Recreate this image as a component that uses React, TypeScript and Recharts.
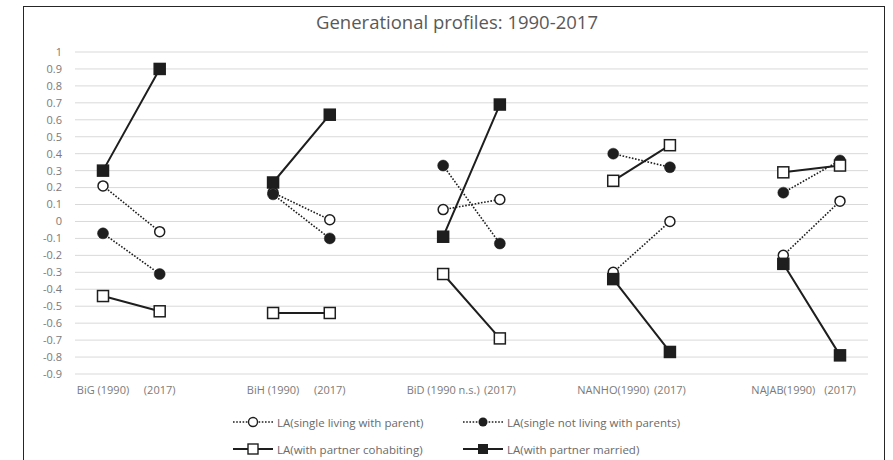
import React from 'react';
import { LineChart, Line, XAxis, YAxis, CartesianGrid } from 'recharts';

const categories = [
  'BiG (1990)', '(2017)', '',
  'BiH (1990)', '(2017)', '',
  'BiD (1990 n.s.)', '(2017)', '',
  'NANHO(1990)', '(2017)', '',
  'NAJAB(1990)', '(2017)',
];

const singleWithParent = [0.21, -0.06, null, 0.17, 0.01, null, 0.07, 0.13, null, -0.3, 0.0, null, -0.2, 0.12];
const singleNotWithParents = [-0.07, -0.31, null, 0.16, -0.1, null, 0.33, -0.13, null, 0.4, 0.32, null, 0.17, 0.36];
const partnerCohabiting = [-0.44, -0.53, null, -0.54, -0.54, null, -0.31, -0.69, null, 0.24, 0.45, null, 0.29, 0.33];
const partnerMarried = [0.3, 0.9, null, 0.23, 0.63, null, -0.09, 0.69, null, -0.34, -0.77, null, -0.25, -0.79];

const yTicks = [-0.9, -0.8, -0.7, -0.6, -0.5, -0.4, -0.3, -0.2, -0.1, 0, 0.1, 0.2, 0.3, 0.4, 0.5, 0.6, 0.7, 0.8, 0.9, 1];

const seriesNames = [
  'LA(single living with parent)',
  'LA(single not living with parents)',
  'LA(with partner cohabiting)',
  'LA(with partner married)',
];

const data = categories.map((cat, i) => ({
  cat,
  sp: singleWithParent[i],
  sn: singleNotWithParents[i],
  pc: partnerCohabiting[i],
  pm: partnerMarried[i],
}));

const INK = '#1e1e1e';
const FONT = '"Open Sans", "Liberation Sans", sans-serif';

const squareDot = (fill: string) => (props: any) => {
  const { cx, cy, index } = props;
  if (cx == null || cy == null) return <g key={`e-${index}`} />;
  return (
    <rect
      key={`s-${index}`}
      x={cx - 5.5}
      y={cy - 5.5}
      width={11}
      height={11}
      fill={fill}
      stroke={INK}
      strokeWidth={1.5}
    />
  );
};

const LegendIcon = ({ dotted, marker }: { dotted: boolean; marker: string }) => (
  <svg width={40} height={12} style={{ marginRight: 4 }}>
    <line
      x1={0}
      y1={6}
      x2={40}
      y2={6}
      stroke={INK}
      strokeWidth={dotted ? 1.6 : 2}
      strokeDasharray={dotted ? '1.6 1.6' : undefined}
    />
    {marker === 'openCircle' && <circle cx={20} cy={6} r={4.5} fill="#fff" stroke={INK} strokeWidth={1.4} />}
    {marker === 'circle' && <circle cx={20} cy={6} r={4.5} fill={INK} />}
    {marker === 'openSquare' && <rect x={15} y={1} width={10} height={10} fill="#fff" stroke={INK} strokeWidth={1.4} />}
    {marker === 'square' && <rect x={15} y={1} width={10} height={10} fill={INK} />}
  </svg>
);

const legendItems = [
  { name: seriesNames[0], dotted: true, marker: 'openCircle', left: 233, top: 413 },
  { name: seriesNames[1], dotted: true, marker: 'circle', left: 463, top: 413 },
  { name: seriesNames[2], dotted: false, marker: 'openSquare', left: 233, top: 440 },
  { name: seriesNames[3], dotted: false, marker: 'square', left: 463, top: 440 },
];

export default function App() {
  return (
    <div style={{ position: 'absolute', left: 0, top: 0, width: 893, height: 460, overflow: 'hidden', background: '#fff', fontFamily: FONT }}>
      <div
        style={{
          position: 'absolute',
          left: 23,
          top: 6,
          width: 862,
          height: 470,
          border: '1.5px solid #262626',
          boxSizing: 'border-box',
        }}
      />
      <div
        style={{
          position: 'absolute',
          top: 9,
          left: 0,
          width: 914,
          textAlign: 'center',
          fontSize: 18.5,
          lineHeight: '26px',
          color: '#595959',
        }}
      >
        Generational profiles: 1990-2017
      </div>
      <div style={{ position: 'absolute', left: 0, top: 0 }}>
        <LineChart width={893} height={460} data={data} margin={{ top: 52, right: 25, left: 0, bottom: 56 }}>
          <CartesianGrid vertical={false} stroke="#d9d9d9" strokeWidth={1} />
          <XAxis
            dataKey="cat"
            interval={0}
            padding={{ left: 28, right: 28 }}
            axisLine={false}
            tickLine={false}
            tickSize={0}
            tickMargin={12}
            height={30}
            tick={{ fontSize: 11, fill: '#7a7a7a', fontFamily: FONT }}
          />
          <YAxis
            width={75}
            domain={[-0.9, 1]}
            ticks={yTicks}
            interval={0}
            axisLine={false}
            tickLine={false}
            tickSize={0}
            tickMargin={13}
            tick={{ fontSize: 11, fill: '#7a7a7a', fontFamily: FONT }}
          />
          <Line
            dataKey="sp"
            name={seriesNames[0]}
            stroke={INK}
            strokeWidth={1.6}
            strokeDasharray="1.6 1.6"
            dot={{ r: 5, fill: '#fff', stroke: INK, strokeWidth: 1.5, strokeDasharray: '' }}
            isAnimationActive={false}
          />
          <Line
            dataKey="sn"
            name={seriesNames[1]}
            stroke={INK}
            strokeWidth={1.6}
            strokeDasharray="1.6 1.6"
            dot={{ r: 5.5, fill: INK, stroke: INK, strokeWidth: 0.5, strokeDasharray: '' }}
            isAnimationActive={false}
          />
          <Line
            dataKey="pc"
            name={seriesNames[2]}
            stroke={INK}
            strokeWidth={2}
            dot={squareDot('#fff')}
            isAnimationActive={false}
          />
          <Line
            dataKey="pm"
            name={seriesNames[3]}
            stroke={INK}
            strokeWidth={2}
            dot={squareDot(INK)}
            isAnimationActive={false}
          />
        </LineChart>
      </div>
      {legendItems.map((item) => (
        <div
          key={item.name}
          style={{
            position: 'absolute',
            left: item.left,
            top: item.top,
            height: 18,
            display: 'flex',
            alignItems: 'center',
            fontSize: 11.5,
            color: '#6a6a6a',
            whiteSpace: 'nowrap',
          }}
        >
          <LegendIcon dotted={item.dotted} marker={item.marker} />
          <span>{item.name}</span>
        </div>
      ))}
    </div>
  );
}
